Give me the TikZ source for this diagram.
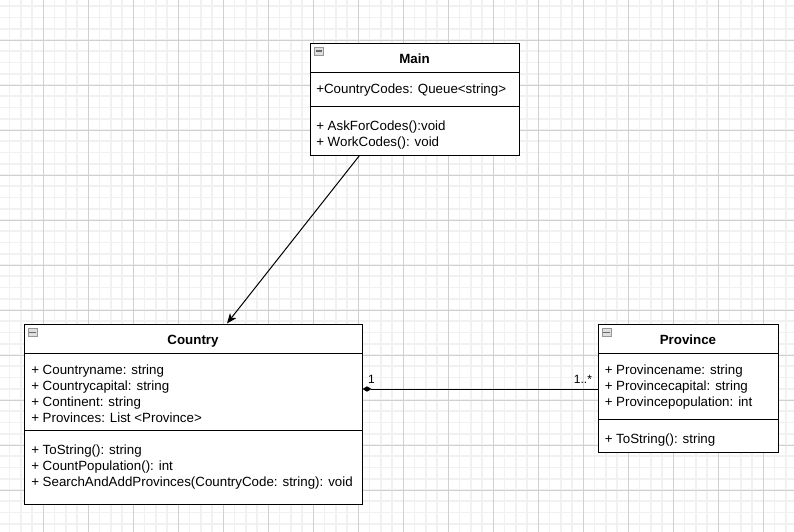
\documentclass[tikz,border=0pt]{standalone}
\usepackage{fontspec}
\setmainfont{Liberation Sans}
\usetikzlibrary{arrows.meta}
\definecolor{gridminor}{RGB}{241,241,241}
\definecolor{gridmajor}{RGB}{208,208,208}
\definecolor{iconfill}{RGB}{222,222,222}
\definecolor{iconedge}{RGB}{150,150,150}
\definecolor{iconbar}{RGB}{105,105,105}
\tikzset{
  umlbox/.style={draw=black, line width=0.75pt, fill=white, inner sep=0pt},
  divider/.style={draw=black, line width=0.75pt},
  member/.style={anchor=base west, inner sep=0pt, font=\fontsize{10}{12}\selectfont},
  header/.style={anchor=base, inner sep=0pt, font=\fontsize{10}{12}\selectfont\bfseries},
  iconbox/.style={draw=iconedge, fill=iconfill, line width=0.5pt, minimum width=6.5pt, minimum height=6pt, inner sep=0pt},
  iconstroke/.style={draw=iconbar, line width=1.3pt},
  assoc/.style={draw=black, line width=0.75pt, -{Stealth[length=7.5pt, width=6pt, inset=2pt]}},
  compo/.style={draw=black, line width=0.75pt, {Diamond[length=6.75pt, width=4pt]}-},
  mult/.style={inner sep=0pt, font=\fontsize{9}{11}\selectfont},
}
\begin{document}
\begin{tikzpicture}[x=0.75pt, y=-0.75pt]
  \useasboundingbox (0,0) rectangle (794,532);
  % background grid: fine lines every 11.25px, strong lines every fourth
  \begin{scope}
    \clip (0,0) rectangle (794,532);
    \fill[white] (0,0) rectangle (794,532);
    \foreach \k in {0,...,71} {
      \draw[gridminor, line width=1.2pt] ({-1.7+11.25*\k},0) -- ({-1.7+11.25*\k},532);
    }
    \foreach \k in {0,...,48} {
      \draw[gridminor, line width=1.2pt] (0,{-5+11.25*\k}) -- (794,{-5+11.25*\k});
    }
    \foreach \k in {0,...,18} {
      \draw[gridmajor, line width=0.75pt] ({-1.7+45*\k},0) -- ({-1.7+45*\k},532);
    }
    \foreach \k in {0,...,12} {
      \draw[gridmajor, line width=0.75pt] (0,{-5+45*\k}) -- (794,{-5+45*\k});
    }
  \end{scope}

  % class boxes
  \node[umlbox, minimum width=156.75pt, minimum height=84pt] (main) at (414.5,99) {};
  \node[umlbox, minimum width=253.5pt, minimum height=135pt] (country) at (193,414) {};
  \node[umlbox, minimum width=135pt, minimum height=96pt] (province) at (688,388) {};

  % compartments
  \draw[divider] (main.west |- 0,72) -- (main.east |- 0,72);
  \draw[divider] (main.west |- 0,106) -- (main.east |- 0,106);
  \draw[divider] (country.west |- 0,353) -- (country.east |- 0,353);
  \draw[divider] (country.west |- 0,430) -- (country.east |- 0,430);
  \draw[divider] (province.west |- 0,353) -- (province.east |- 0,353);
  \draw[divider] (province.west |- 0,419) -- (province.east |- 0,419);

  % collapse icons
  \node[iconbox] (main-ic) at (319,51) {};
  \draw[iconstroke] ([xshift=1.1pt]main-ic.west) -- ([xshift=-1.1pt]main-ic.east);
  \node[iconbox] (country-ic) at (32.5,332.5) {};
  \draw[iconstroke] ([xshift=1.1pt]country-ic.west) -- ([xshift=-1.1pt]country-ic.east);
  \node[iconbox] (province-ic) at (606.5,332.5) {};
  \draw[iconstroke] ([xshift=1.1pt]province-ic.west) -- ([xshift=-1.1pt]province-ic.east);

  % Main
  \node[header] (main-t) at (414.5,63) {Main};
  \node[member] (main-a1) at (316,93) {+CountryCodes: Queue<string>};
  \node[member] (main-m1) at (316,130) {+ AskForCodes():void};
  \node[member] (main-m2) at (316,146) {+ WorkCodes(): void};

  % Country
  \node[header] (country-t) at (193,344) {Country};
  \node[member] (country-a1) at (31,374) {+ Countryname: string};
  \node[member] (country-a2) at (31,390) {+ Countrycapital: string};
  \node[member] (country-a3) at (31,406) {+ Continent: string};
  \node[member] (country-a4) at (31,422) {+ Provinces: List <Province>};
  \node[member] (country-m1) at (31,454) {+ ToString(): string};
  \node[member] (country-m2) at (31,470) {+ CountPopulation(): int};
  \node[member] (country-m3) at (31,486.5) {+ SearchAndAddProvinces(CountryCode: string): void};

  % Province
  \node[header] (province-t) at (688,344) {Province};
  \node[member] (province-a1) at (604.5,374) {+ Provincename: string};
  \node[member] (province-a2) at (604.5,390) {+ Provincecapital: string};
  \node[member] (province-a3) at (604.5,406) {+ Provincepopulation: int};
  \node[member] (province-m1) at (604.5,443) {+ ToString(): string};

  % relations
  \draw[assoc] ([xshift=37.5pt]main.south west) -- ([xshift=152.6pt]country.north west);
  \draw[compo] (country.east |- 0,389) -- (province.west |- 0,389)
    node[mult, at start, anchor=south west, inner xsep=3.75pt, inner ysep=3.75pt] (mult-c) {1}
    node[mult, at end, anchor=south east, inner xsep=3.75pt, inner ysep=3.75pt] (mult-p) {1..*};
\end{tikzpicture}
\end{document}
